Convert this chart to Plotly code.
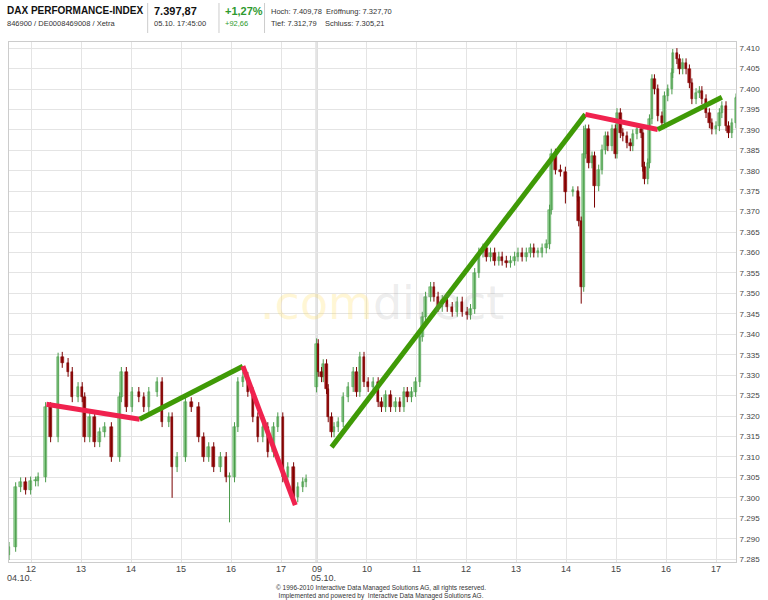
import plotly.graph_objects as go

# intraday DAX, two sessions (04.10. and 05.10.), closes
DAY1_TIMES = ["11:33", "11:41", "11:47", "11:53", "11:59", "12:05", "12:08", "12:17", "12:23", "12:32",
              "12:37", "12:44", "12:49", "12:56", "13:01", "13:04", "13:10", "13:16", "13:22", "13:28",
              "13:36", "13:46", "13:48", "13:54", "14:01", "14:09", "14:15", "14:21", "14:31", "14:37",
              "14:45", "14:49", "14:55", "15:05", "15:12", "15:21", "15:27", "15:33", "15:39", "15:47",
              "15:54", "15:58", "16:04", "16:08", "16:14", "16:20", "16:26", "16:32", "16:38", "16:44",
              "16:51", "16:56", "17:02", "17:08", "17:15", "17:20", "17:26", "17:30"]
DAY1_CLOSE = [7288.0, 7302.6, 7303.8, 7302.0, 7304.0, 7304.0, 7305.0, 7322.2, 7314.8, 7334.5,
              7333.0, 7330.8, 7324.6, 7327.1, 7324.6, 7314.8, 7319.7, 7313.6, 7316.0, 7317.3,
              7310.0, 7324.6, 7330.8, 7322.2, 7325.9, 7324.6, 7322.2, 7325.9, 7328.3, 7318.5,
              7319.7, 7307.5, 7310.0, 7323.4, 7322.2, 7314.8, 7310.0, 7312.4, 7307.5, 7310.0,
              7305.0, 7305.0, 7317.3, 7328.3, 7329.6, 7325.9, 7319.7, 7314.8, 7317.3, 7311.1,
              7317.3, 7319.7, 7305.0, 7307.5, 7300.1, 7302.6, 7303.8, 7304.5]
DAY1_OPEN = 7286.0

DAY2_TIMES = ["09:00", "09:02", "09:06", "09:08", "09:12", "09:14", "09:18", "09:21", "09:26", "09:32",
              "09:38", "09:44", "09:48", "09:52", "09:57", "10:02", "10:08", "10:14", "10:18", "10:23",
              "10:29", "10:35", "10:40", "10:45", "10:49", "10:54", "10:59", "11:04", "11:07", "11:11",
              "11:17", "11:21", "11:26", "11:31", "11:37", "11:43", "11:49", "11:55", "12:01", "12:05",
              "12:10", "12:15", "12:20", "12:24", "12:29", "12:34", "12:39", "12:43", "12:48", "12:53",
              "12:58", "13:02", "13:07", "13:12", "13:17", "13:21", "13:26", "13:31", "13:36", "13:40",
              "13:42", "13:47", "13:53", "13:59", "14:08", "14:14", "14:15", "14:18", "14:21", "14:23",
              "14:27", "14:31", "14:34", "14:39", "14:43", "14:47", "14:50", "14:55", "14:59", "15:01",
              "15:05", "15:08", "15:13", "15:17", "15:20", "15:25", "15:30", "15:32", "15:34", "15:38",
              "15:40", "15:43", "15:46", "15:50", "15:55", "15:58", "16:02", "16:07", "16:08", "16:13",
              "16:16", "16:20", "16:24", "16:28", "16:31", "16:36", "16:40", "16:43", "16:48", "16:52",
              "16:55", "17:00", "17:04", "17:07", "17:12", "17:15", "17:19", "17:24", "17:26"]
DAY2_CLOSE = [7337.6, 7330.8, 7329.5, 7332.7, 7326.6, 7319.7, 7316.0, 7317.3, 7318.5, 7324.6,
              7327.1, 7330.8, 7325.9, 7334.5, 7328.3, 7327.1, 7328.3, 7323.4, 7322.2, 7325.1,
              7322.2, 7323.4, 7322.2, 7325.9, 7324.6, 7325.9, 7328.3, 7339.4, 7344.3, 7349.2,
              7351.6, 7349.2, 7346.7, 7348.4, 7346.7, 7345.5, 7348.0, 7345.5, 7344.8, 7346.2,
              7355.0, 7360.0, 7361.0, 7359.0, 7360.0, 7358.0, 7359.0, 7358.0, 7357.5, 7358.0,
              7359.0, 7360.0, 7359.0, 7360.0, 7361.0, 7360.0, 7360.0, 7361.0, 7362.0, 7370.5,
              7384.2, 7380.3, 7379.8, 7374.9, 7375.0, 7373.7, 7367.6, 7351.6, 7384.2, 7390.1,
              7381.8, 7383.5, 7376.2, 7380.3, 7385.2, 7388.4, 7386.0, 7390.1, 7384.2, 7394.1,
              7389.2, 7388.4, 7386.7, 7386.0, 7388.9, 7390.1, 7389.2, 7381.0, 7377.9, 7381.8,
              7392.6, 7402.4, 7399.9, 7393.3, 7391.6, 7398.2, 7399.9, 7403.9, 7408.8, 7407.3,
              7404.8, 7406.3, 7404.8, 7401.4, 7397.5, 7399.0, 7399.5, 7397.5, 7394.1, 7391.6,
              7390.1, 7390.9, 7394.1, 7395.8, 7390.9, 7389.2, 7391.6, 7397.7, 7397.9]
DAY2_OPEN = 7327.0

# extra wick extremes (day, time, low, high)
SPIKES = [(1, "14:49", 7300.0, None), (1, "15:58", 7294.0, None), (1, "12:32", None, 7335.5),
          (2, "09:00", None, 7339.0), (2, "14:18", 7347.5, None), (2, "14:21", None, 7391.0),
          (2, "16:08", None, 7409.8), (2, "14:34", 7371.0, None), (2, "13:59", 7372.0, None)]

# trend lines: (day, time, value) start -> end, colour
TRENDS = [((1, "12:18", 7322.9), (1, "14:10", 7319.2), "#f0224e"),
          ((1, "14:10", 7319.2), (1, "16:14", 7332.2), "#3f9a06"),
          ((1, "16:14", 7332.2), (1, "17:17", 7298.2), "#f0224e"),
          ((2, "09:18", 7312.4), (2, "14:23", 7393.8), "#3f9a06"),
          ((2, "14:23", 7393.8), (2, "15:50", 7390.1), "#f0224e"),
          ((2, "15:50", 7390.1), (2, "17:07", 7398.0), "#3f9a06")]

DAY2_SHIFT = 8.71  # gap between sessions on the axis, in hours

W, H = 768, 600
ML, MR, MT, MB = 8, 26, 42, 38


def pos(day, t):
    h, m = t.split(":")
    x = int(h) + int(m) / 60
    return x if day == 1 else x + DAY2_SHIFT


def px(x, y):
    # figure pixel -> plot paper coordinates
    return (x - ML) / (W - ML - MR), (H - MB - y) / (H - MT - MB)


xs, opens, closes, highs, lows = [], [], [], [], []
for day, times, vals, first in [(1, DAY1_TIMES, DAY1_CLOSE, DAY1_OPEN), (2, DAY2_TIMES, DAY2_CLOSE, DAY2_OPEN)]:
    prev = first
    for t, c in zip(times, vals):
        xs.append(pos(day, t))
        opens.append(prev)
        closes.append(c)
        highs.append(max(prev, c) + 1.2)
        lows.append(min(prev, c) - 1.2)
        prev = c
for day, t, lo, hi in SPIKES:
    i = xs.index(pos(day, t))
    if lo is not None:
        lows[i] = lo
    if hi is not None:
        highs[i] = hi

fig = go.Figure()

for up, fill, edge in [(True, "#8fd08f", "#4a9a4a"), (False, "#a01010", "#7a0000")]:
    idx = [i for i in range(len(xs)) if (closes[i] >= opens[i]) == up]
    wx, wy = [], []
    for i in idx:
        wx += [xs[i], xs[i], None]
        wy += [lows[i], highs[i], None]
    fig.add_trace(go.Scatter(x=wx, y=wy, mode="lines", line=dict(color=edge, width=1),
                             hoverinfo="skip", showlegend=False))
    fig.add_trace(go.Bar(x=[xs[i] for i in idx],
                         y=[max(abs(closes[i] - opens[i]), 0.3) for i in idx],
                         base=[min(opens[i], closes[i]) for i in idx],
                         width=0.05, marker=dict(color=fill, line=dict(color=edge, width=0.5)),
                         showlegend=False))

for (d0, t0, v0), (d1, t1, v1), col in TRENDS:
    fig.add_trace(go.Scatter(x=[pos(d0, t0), pos(d1, t1)], y=[v0, v1], mode="lines",
                             line=dict(color=col, width=5), showlegend=False))

tickvals = [pos(1, f"{h}:00") for h in range(12, 18)] + [pos(2, f"{h}:00") for h in range(9, 18)]
ticktext = [str(h) for h in range(12, 18)] + [f"{h:02d}" for h in range(9, 18)]

fig.add_vline(x=pos(2, "09:00"), line=dict(color="#c8c8c8", width=2), layer="below")

font = "Liberation Sans, Arial, sans-serif"
fig.update_layout(
    width=W, height=H, margin=dict(l=ML, r=MR, t=MT, b=MB),
    paper_bgcolor="white", plot_bgcolor="white", barmode="overlay", bargap=0,
    separators=",.", font=dict(family=font, size=9, color="#444"),
    xaxis=dict(range=[pos(1, "11:33"), pos(2, "17:24")], tickvals=tickvals, showticklabels=False,
               showgrid=True, gridcolor="#e4e4e4", zeroline=False, ticks="",
               showline=True, linecolor="#cccccc", mirror=True),
    yaxis=dict(range=[7284.3, 7411.5], side="right", dtick=5, tickformat=",.0f",
               showgrid=True, gridcolor="#e4e4e4", zeroline=False, ticklabelstandoff=1,
               showline=True, linecolor="#cccccc", mirror=True, tickfont=dict(size=8)),
)

_, ty = px(0, 569)
for v, t in zip(tickvals, ticktext):
    fig.add_annotation(x=v, y=ty, xref="x", yref="paper", text=t, showarrow=False,
                       yanchor="middle", font=dict(size=9, color="#444", family=font))

ann = [
    dict(x=4, y=11, text="<b>DAX PERFORMANCE-INDEX</b>", size=10, color="#111"),
    dict(x=4, y=24, text="846900 / DE0008469008 / Xetra", size=7.5, color="#333"),
    dict(x=152, y=11, text="<b>7.397,87</b>", size=11, color="#111"),
    dict(x=152, y=24, text="05.10. 17:45:00", size=7.5, color="#333"),
    dict(x=224, y=11, text="<b>+1,27%</b>", size=11, color="#2e9a2e"),
    dict(x=224, y=24, text="+92,66", size=7.5, color="#2e9a2e"),
    dict(x=270, y=12, text="Hoch: 7.409,78  Eröffnung: 7.327,70", size=7.5, color="#333"),
    dict(x=270, y=24, text="Tief: 7.312,79    Schluss: 7.305,21", size=7.5, color="#333"),
    dict(x=4, y=578, text="04.10.", size=9, color="#444"),
    dict(x=311, y=578, text="05.10.", size=9, color="#444"),
]
for a in ann:
    ax, ay = px(a["x"], a["y"])
    fig.add_annotation(x=ax, y=ay, xref="paper", yref="paper", xanchor="left", yanchor="middle",
                       text=a["text"], showarrow=False,
                       font=dict(size=a["size"], color=a["color"], family=font))

fx, fy = px(384, 592)
fig.add_annotation(x=fx, y=fy, xref="paper", yref="paper", showarrow=False, yanchor="middle",
                   text="© 1996-2010 Interactive Data Managed Solutions AG, all rights reserved.<br>"
                        "Implemented and powered by  Interactive Data Managed Solutions AG.",
                   font=dict(size=6.5, color="#333", family=font))
wx_, wy_ = px(385, 303)
fig.add_annotation(x=wx_, y=wy_, xref="paper", yref="paper", showarrow=False,
                   text="<span style='color:rgba(255,220,90,0.25)'>.com</span>"
                        "<span style='color:rgba(150,150,150,0.18)'>direct</span>",
                   font=dict(size=46, family="DejaVu Sans"))

for sx in [148, 220, 266]:
    x0, y0 = px(sx, 3)
    _, y1 = px(sx, 33)
    fig.add_shape(type="line", xref="paper", yref="paper", x0=x0, x1=x0, y0=y0, y1=y1,
                  line=dict(color="#cccccc", width=1))

# drop the default page margin so the 768x600 figure fills the window
fig.write_html("out.html", config={"displayModeBar": False},
               post_script="document.body.style.margin='0';document.body.style.overflow='hidden';")
